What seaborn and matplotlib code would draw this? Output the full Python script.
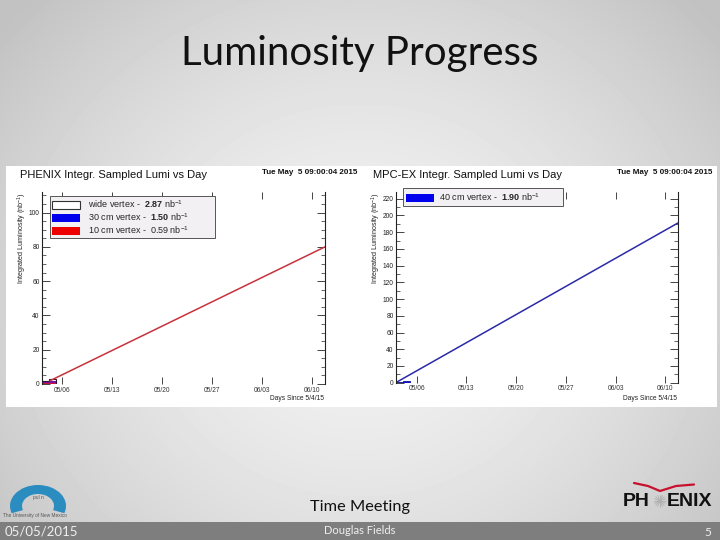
import matplotlib.pyplot as plt
import matplotlib.patches as mpatches
import matplotlib.lines as mlines
from matplotlib.ticker import MultipleLocator
import numpy as np
import seaborn as sns

sns.set_style("ticks")
plt.rcParams["font.family"] = ["Liberation Sans", "DejaVu Sans"]
plt.rcParams["mathtext.fontset"] = "custom"
plt.rcParams["mathtext.rm"] = "Liberation Sans"
plt.rcParams["mathtext.bf"] = "Liberation Sans:bold"

########################
## Data (days since 5/4/15)
########################
week_ticks = [2, 9, 16, 23, 30, 37]
week_labels = ["05/06", "05/13", "05/20", "05/27", "06/03", "06/10"]

# projection lines
phenix_days = [0.4, 38.86]
phenix_lumi = [2.0, 80.0]
mpc_days = [-0.96, 38.8]
mpc_lumi = [0.0, 191.0]

# delivered so far (daily cumulative bins)
bin_edges = [-0.8, 0.2, 1.2]
phenix_wide = [1.6, 2.87]
phenix_30cm = [0.9, 1.50]
phenix_10cm = [0.35, 0.59]
mpc_edges = [-0.96, 0.05, 1.06]
mpc_40cm = [1.0, 1.90]

W, H = 720, 540


def fx(x):
    return x / W


def fy(y):
    return 1 - y / H


fig = plt.figure(figsize=(7.2, 5.4), dpi=100)

# slide background: soft radial gradient
bg = fig.add_axes([0, 0, 1, 1], zorder=-10)
yy, xx = np.mgrid[0:H, 0:W]
r = np.sqrt(((xx - 360) / 420) ** 2 + ((yy - 300) / 380) ** 2)
shade = np.clip(0.95 - 0.16 * r**1.6, 0.76, 0.95)
bg.imshow(shade, cmap="gray", vmin=0, vmax=1, aspect="auto", extent=[0, 1, 0, 1])
bg.set_axis_off()

# white image panel
fig.patches.append(
    mpatches.Rectangle((fx(6), fy(407)), fx(711), 241 / H, transform=fig.transFigure,
                       facecolor="white", edgecolor="none", zorder=-5)
)

# footer bar
fig.patches.append(
    mpatches.Rectangle((0, 0), 1, 18.5 / H, transform=fig.transFigure,
                       facecolor="#7e7e7e", edgecolor="none", zorder=-5)
)


def style_axes(ax, ymax, minor):
    ax.set_facecolor("none")
    ax.set_ylim(0, ymax)
    ax.set_xticks(week_ticks)
    ax.set_xticklabels(week_labels)
    ax.yaxis.set_major_locator(MultipleLocator(20))
    ax.yaxis.set_minor_locator(MultipleLocator(minor))
    ax.spines["top"].set_visible(False)
    ax.spines["bottom"].set_visible(False)
    for s in ["left", "right"]:
        ax.spines[s].set_linewidth(0.8)
        ax.spines[s].set_color("#222222")
    ax.tick_params(axis="y", which="major", direction="in", length=6, width=0.6,
                   right=True, labelsize=4.8, pad=1.5, labelcolor="#222222")
    ax.tick_params(axis="y", which="minor", direction="in", length=3, width=0.5, right=True)
    ax.tick_params(axis="x", which="major", direction="in", length=5, width=0.6, top=True,
                   labeltop=False, labelsize=4.8, pad=2, labelcolor="#333333")
    ax.set_xlabel("")
    ax.set_ylabel("")


legend_kw = dict(
    loc="upper left", bbox_transform=fig.transFigure, frameon=True, fancybox=False,
    edgecolor="#555555", facecolor="#f3f0f3", framealpha=1, fontsize=6.5,
    handlelength=3.1, handleheight=1.0, borderaxespad=0,
)

# ----------------------
# Left: PHENIX
# ----------------------
ax1 = fig.add_axes([fx(41.7), fy(384), 283.3 / W, 192 / H])
ax1.set_xlim(-0.8, 38.86)
widths = np.diff(bin_edges)
ax1.bar(bin_edges[:-1], phenix_wide, width=widths, align="edge",
        facecolor="white", edgecolor="#301030", linewidth=0.8)
ax1.bar(bin_edges[:-1], phenix_30cm, width=widths, align="edge",
        facecolor="#1a1aee", edgecolor="none")
ax1.bar(bin_edges[:-1], phenix_10cm, width=widths, align="edge",
        facecolor="#e01010", edgecolor="none")
ax1.bar(bin_edges[:-1], phenix_30cm, width=widths, align="edge",
        facecolor="#c01060", edgecolor="none", alpha=0.55)
sns.lineplot(x=phenix_days, y=phenix_lumi, ax=ax1, color="#c8323c", linewidth=1.1)
style_axes(ax1, 112, 5)

pad = "          "
leg1 = ax1.legend(
    handles=[
        mpatches.Patch(facecolor="white", edgecolor="#333333", linewidth=0.8),
        mpatches.Patch(facecolor="#0000ee", edgecolor="none"),
        mpatches.Patch(facecolor="#ee0000", edgecolor="none"),
    ],
    labels=[
        r"wide vertex -  $\mathbf{2.87}$ nb$^{-1}$" + pad,
        r"30 cm vertex -  $\mathbf{1.50}$ nb$^{-1}$" + pad,
        r"10 cm vertex -  0.59 nb$^{-1}$" + pad,
    ],
    bbox_to_anchor=(fx(50), fy(196)), borderpad=0.25, labelspacing=0.15,
    handletextpad=0.9, **legend_kw,
)
leg1.get_frame().set_linewidth(0.7)

fig.text(fx(20), fy(175), "PHENIX Integr. Sampled Lumi vs Day", fontsize=8,
         ha="left", va="center", color="#111111")
fig.text(fx(357), fy(173), "Tue May  5 09:00:04 2015", fontsize=5.8, fontweight="bold",
         ha="right", va="center", color="#111111")
fig.text(fx(22), fy(192), r"Integrated Luminosity (nb$^{-1}$)", fontsize=5.2,
         rotation=90, ha="center", va="top", color="#222222")
fig.text(fx(324), fy(398), "Days Since 5/4/15", fontsize=4.8, ha="right", va="center",
         color="#222222")

# ----------------------
# Right: MPC-EX
# ----------------------
ax2 = fig.add_axes([fx(395.7), fy(382.7), 282.3 / W, 190.7 / H])
ax2.set_xlim(-0.96, 38.8)
ax2.bar(mpc_edges[:-1], mpc_40cm, width=np.diff(mpc_edges), align="edge",
        facecolor="#1010d0", edgecolor="#1010a0", linewidth=0.6)
sns.lineplot(x=mpc_days, y=mpc_lumi, ax=ax2, color="#2a2aa8", linewidth=1.1)
style_axes(ax2, 228, 10)

leg2 = ax2.legend(
    handles=[mpatches.Patch(facecolor="#0000ee", edgecolor="none")],
    labels=[r"40 cm vertex -  $\mathbf{1.90}$ nb$^{-1}$" + "         "],
    bbox_to_anchor=(fx(403), fy(188)), borderpad=0.35, handletextpad=0.5, **legend_kw,
)
leg2.get_frame().set_linewidth(0.7)

fig.text(fx(373), fy(175), "MPC-EX Integr. Sampled Lumi vs Day", fontsize=8,
         ha="left", va="center", color="#111111")
fig.text(fx(712), fy(173), "Tue May  5 09:00:04 2015", fontsize=5.8, fontweight="bold",
         ha="right", va="center", color="#111111")
fig.text(fx(376), fy(192), r"Integrated Luminosity (nb$^{-1}$)", fontsize=5.2,
         rotation=90, ha="center", va="top", color="#222222")
fig.text(fx(677), fy(398), "Days Since 5/4/15", fontsize=4.8, ha="right", va="center",
         color="#222222")

# ----------------------
# Slide text
# ----------------------
fig.text(0.5, fy(54), "Luminosity Progress", fontsize=29, family=["Lato", "DejaVu Sans"],
         ha="center", va="center", color="#111111")
fig.text(0.5, fy(507), "Time Meeting", fontsize=11.8, family=["Lato", "DejaVu Sans"],
         ha="center", va="center", color="#111111")
fig.text(fx(5), fy(531), "05/05/2015", fontsize=9.5, family=["Lato", "DejaVu Sans"],
         ha="left", va="center", color="#f0f0f0")
fig.text(0.5, fy(531), "Douglas Fields", fontsize=8, family=["Lato", "DejaVu Sans"],
         ha="center", va="center", color="#f0f0f0")
fig.text(fx(708), fy(532), "5", fontsize=8.5, family=["Lato", "DejaVu Sans"],
         ha="center", va="center", color="#f0f0f0")

# left logo (blue arc)
fig.patches.append(
    mpatches.Wedge((fx(38), fy(506)), 28 / W, -20, 200, width=12 / W,
                   transform=fig.transFigure, facecolor="#2b8cbf", edgecolor="none")
)
fig.text(fx(38), fy(497), "pul n", fontsize=3.5, ha="center", va="center", color="#555555")
fig.text(fx(3), fy(516), "The University of New Mexico", fontsize=3.4, ha="left",
         va="center", color="#555555")

# PHENIX logo
fig.text(fx(623), fy(501), "PH", fontsize=14, fontweight="bold", ha="left", va="center",
         color="#111111")
fig.text(fx(667), fy(501), "ENIX", fontsize=14, fontweight="bold", ha="left", va="center",
         color="#111111")
for a in np.linspace(0, np.pi, 8, endpoint=False):
    dx, dy = 6 * np.cos(a), 6 * np.sin(a)
    fig.lines.append(mlines.Line2D([fx(660 - dx), fx(660 + dx)], [fy(501 - dy), fy(501 + dy)],
                                   transform=fig.transFigure, color="#b0b0b0", linewidth=0.6))
fig.lines.append(mlines.Line2D([fx(634), fx(648), fx(660), fx(676), fx(694)],
                               [fy(483), fy(486), fy(491), fy(486), fy(484.5)],
                               transform=fig.transFigure, color="#c8102e", linewidth=1.6))

fig.savefig("out.png", dpi=100)
plt.close(fig)
